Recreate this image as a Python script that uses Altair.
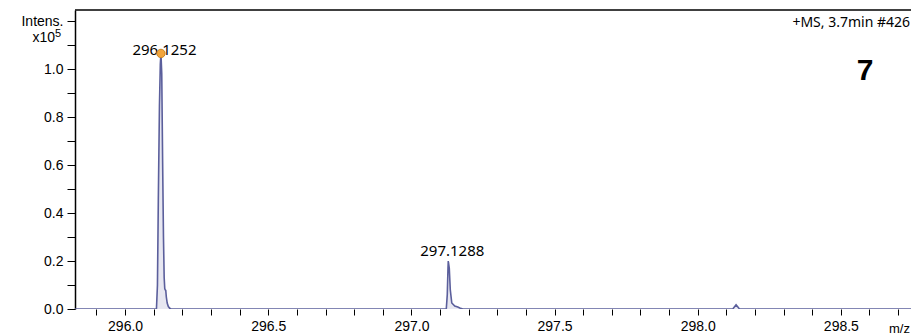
import altair as alt
import pandas as pd

# Profile spectrum (m/z, intensity in units of 1e5 counts)
mz = [295.825,
      296.1095, 296.1130, 296.1160, 296.1200, 296.1230, 296.1252, 296.1280,
      296.1310, 296.1340, 296.1365, 296.1385, 296.1400, 296.1420, 296.1440,
      296.1470, 296.1510, 296.1560, 296.1600,
      297.1218, 297.1253, 297.1278, 297.1288, 297.1323, 297.1358, 297.1410,
      297.1515, 297.1620, 297.1690, 297.1795,
      298.1225, 298.1340, 298.1460,
      298.745]
intensity = [0.0,
             0.0, 0.10, 0.45, 0.85, 1.02, 1.065, 0.98,
             0.62, 0.30, 0.13, 0.085, 0.080, 0.078, 0.050,
             0.025, 0.010, 0.003, 0.0,
             0.0, 0.06, 0.17, 0.20, 0.17, 0.08, 0.025,
             0.012, 0.008, 0.004, 0.0,
             0.0, 0.018, 0.0,
             0.0]

# Labelled peaks
peak_mz = [296.1252, 297.1288]
peak_int = [1.065, 0.20]
peak_label = ["296.1252", "297.1288"]

x_ticks = [295.9, 296.0, 296.1, 296.2, 296.3, 296.4, 296.5, 296.6, 296.7, 296.8,
           296.9, 297.0, 297.1, 297.2, 297.3, 297.4, 297.5, 297.6, 297.7, 297.8,
           297.9, 298.0, 298.1, 298.2, 298.3, 298.4, 298.5, 298.6, 298.7]
y_ticks = [0.0, 0.1, 0.2, 0.3, 0.4, 0.5, 0.6, 0.7, 0.8, 0.9, 1.0, 1.1, 1.2]

W, H = 836, 299
LINE = "#5b5f9c"
FILL = "#e7e7f1"
AXIS_FONT = "Liberation Sans"
NOTE_FONT = "Noto Sans"

spec = pd.DataFrame({"mz": mz, "intensity": intensity})
peaks = pd.DataFrame({"mz": peak_mz, "intensity": peak_int, "label": peak_label})

x_enc = alt.X(
    "mz:Q",
    scale=alt.Scale(domain=[295.825, 298.745], nice=False, zero=False),
    axis=alt.Axis(
        values=x_ticks, format=".1f",
        labelExpr="indexof(['0', '5'], slice(datum.label, -1)) >= 0 ? datum.label : ''",
        domain=False, ticks=True, tickSize=6, tickColor="black", tickWidth=1,
        labelFont=AXIS_FONT, labelFontSize=14, labelColor="black", labelPadding=4,
        grid=False, title="m/z", titleFont=AXIS_FONT, titleFontSize=13,
        titleFontWeight="normal", titleColor="black",
        titleX=824, titleY=19, titleAlign="center", titleBaseline="middle",
        labelFlush=False, labelOverlap=False,
    ),
)
y_enc = alt.Y(
    "intensity:Q",
    scale=alt.Scale(domain=[0, 1.246], nice=False),
    axis=alt.Axis(
        values=y_ticks,
        labelExpr=("datum.value > 1.15 ? 'Intens.' : "
                   "(datum.value <= 1.0 && round(datum.value*10) % 2 == 0 ? format(datum.value, '.1f') : '')"),
        domain=True, domainColor="black", domainWidth=1.5,
        ticks=True, tickSize=8, tickColor="black", tickWidth=1,
        labelFont=AXIS_FONT, labelFontSize=14, labelColor="black", labelPadding=4,
        grid=False, title=None, labelOverlap=False, labelFlush=False,
    ),
)

area = alt.Chart(spec).mark_area(color=FILL, clip=True).encode(x=x_enc, y=y_enc)
line = alt.Chart(spec).mark_line(color=LINE, strokeWidth=1.6, clip=True).encode(x=x_enc, y=y_enc)

label_main = alt.Chart(peaks.iloc[[0]]).mark_text(
    font=NOTE_FONT, fontSize=15, color="black", dx=3.5, dy=-3, baseline="middle"
).encode(x=x_enc, y=y_enc, text="label:N")
label_other = alt.Chart(peaks.iloc[1:]).mark_text(
    font=NOTE_FONT, fontSize=15, color="black", dx=4, dy=-10, baseline="middle"
).encode(x=x_enc, y=y_enc, text="label:N")
marker = alt.Chart(peaks.iloc[[0]]).mark_point(
    filled=True, size=70, fill="#f2a53c", stroke="#c98526", strokeWidth=1, opacity=1
).encode(x=x_enc, y=y_enc)

one = alt.Data(values=[{"k": 0}])
top_rule = alt.Chart(one).mark_rule(color="black", strokeWidth=1.5).encode(
    x=alt.value(0), x2=alt.value(W), y=alt.value(0)
)
scale_txt = alt.Chart(one).mark_text(
    font=AXIS_FONT, fontSize=14, color="black", align="right", baseline="middle"
).encode(x=alt.value(-20), y=alt.value(28), text=alt.value("x10"))
exp_txt = alt.Chart(one).mark_text(
    font=AXIS_FONT, fontSize=11, color="black", align="left", baseline="middle"
).encode(x=alt.value(-20), y=alt.value(24), text=alt.value("5"))
scan_txt = alt.Chart(one).mark_text(
    font=NOTE_FONT, fontSize=14, color="black", align="right", baseline="middle"
).encode(x=alt.value(835), y=alt.value(13), text=alt.value("+MS, 3.7min #426"))
cmpd_txt = alt.Chart(one).mark_text(
    font=AXIS_FONT, fontSize=30, fontWeight="bold", color="black", align="center", baseline="middle"
).encode(x=alt.value(790), y=alt.value(61), text=alt.value("7"))

chart = alt.layer(
    area, line, label_main, label_other, marker, top_rule,
    scale_txt, exp_txt, scan_txt, cmpd_txt,
).properties(
    width=W, height=H,
    padding={"left": 75, "top": 10, "right": 0, "bottom": 27},
    autosize=alt.AutoSizeParams(type="none"),
    background="white",
).configure_view(stroke=None).configure_axis(labelOverlap=False)

chart.save("out.html", embed_options={"renderer": "svg", "actions": False})
